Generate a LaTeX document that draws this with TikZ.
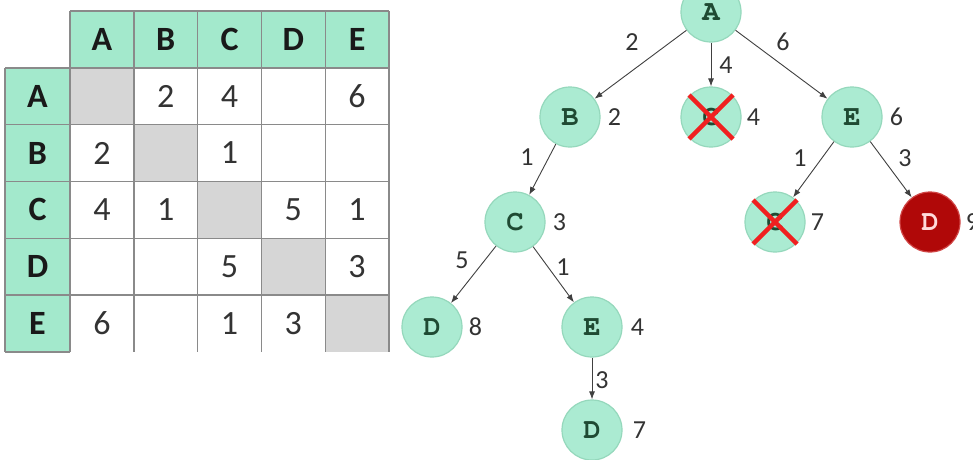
\documentclass[tikz,border=0pt]{standalone}
\usepackage{fontspec}
\setmainfont{Carlito}
\newfontfamily\monob{TeX Gyre Cursor}
\usetikzlibrary{arrows.meta}
\definecolor{hdr}{HTML}{A3E9CC}
\definecolor{diag}{HTML}{D6D6D6}
\definecolor{grid}{HTML}{8A8A8A}
\definecolor{vfill}{HTML}{ABEBD2}
\definecolor{vedge}{HTML}{95D8BC}
\definecolor{vtext}{HTML}{1F4A33}
\definecolor{dred}{HTML}{B00808}
\definecolor{dredge}{HTML}{D04545}
\definecolor{xred}{HTML}{F02020}
\definecolor{txt}{HTML}{333333}
\tikzset{
  hcell/.style={fill=hdr},
  dcell/.style={fill=diag},
  hlab/.style={font=\fontsize{34}{34}\selectfont\bfseries, text=black!90},
  nlab/.style={font=\fontsize{34}{34}\selectfont, text=txt},
  vert/.style={circle, minimum size=60pt, inner sep=0pt, fill=vfill, draw=vedge, line width=1.2pt, font=\monob\bfseries\fontsize{29}{29}\selectfont, text=vtext},
  redvert/.style={vert, fill=dred, draw=dredge, text=red!15},
  lbl/.style={font=\fontsize{26}{26}\selectfont, text=txt, inner sep=0pt},
  edge/.style={draw=black!75, line width=0.9pt, -{Latex[length=8pt,width=6pt]}},
  cross/.style={draw=xred, line width=4.5pt},
}
\begin{document}
\begin{tikzpicture}[x=1pt,y=-1pt]
\clip (0,0) rectangle (973,459);
\fill[white] (0,0) rectangle (973,459);
% table
\def\cw{63.8}
\def\rh{56.8}
\foreach \i in {0,...,4} {
  \fill[hcell] ({70+\i*\cw},11) rectangle ({70+(\i+1)*\cw},{11+\rh});
  \fill[hcell] (5,{11+(\i+1)*\rh}) rectangle (70,{11+(\i+2)*\rh});
  \fill[dcell] ({70+\i*\cw},{11+(\i+1)*\rh}) rectangle ({70+(\i+1)*\cw},{11+(\i+2)*\rh});
}
\foreach \i in {0,...,5} {
  \draw[grid, line width=1.4pt] ({70+\i*\cw},11) -- ({70+\i*\cw},{11+6*\rh});
  \draw[grid, line width=1.4pt] (70,{11+\i*\rh}) -- (389,{11+\i*\rh});
}
\foreach \i in {1,...,6} \draw[grid, line width=1.4pt] (5,{11+\i*\rh}) -- (70,{11+\i*\rh});
\draw[grid, line width=1.4pt] (5,{11+\rh}) -- (5,{11+6*\rh});
\foreach \l [count=\i from 0] in {A,B,C,D,E} {
  \node[hlab] (ch\l) at ({70+(\i+0.5)*\cw},{11+0.5*\rh}) {\l};
  \node[hlab] (rh\l) at (37.5,{11+(\i+1.5)*\rh}) {\l};
}
\foreach \r/\c/\v [count=\k] in {0/1/2,0/2/4,0/4/6,1/0/2,1/2/1,2/0/4,2/1/1,2/3/5,2/4/1,3/2/5,3/4/3,4/0/6,4/2/1,4/3/3} {
  \node[nlab] (n\k) at ({70+(\c+0.5)*\cw},{11+(\r+1.5)*\rh}) {\v};
}
% tree
\node[vert] (A) at (711,12) {A};
\node[vert] (B) at (570,117) {B};
\node[vert] (Cx) at (711,117) {C};
\node[vert] (E) at (852,117) {E};
\node[vert] (C) at (515,222) {C};
\node[vert] (Cy) at (775,222) {C};
\node[redvert] (Dr) at (930,222) {D};
\node[vert] (D1) at (432,327) {D};
\node[vert] (E2) at (592,327) {E};
\node[vert] (D2) at (592,430) {D};
\foreach \n in {Cx,Cy} {
  \draw[cross] ([shift={(-22,-22)}]\n.center) -- ([shift={(22,22)}]\n.center);
  \draw[cross] ([shift={(-22,22)}]\n.center) -- ([shift={(22,-22)}]\n.center);
}
\draw[edge] (A) -- (B);
\draw[edge] (A) -- (Cx);
\draw[edge] (A) -- (E);
\draw[edge] (B) -- (C);
\draw[edge] (E) -- (Cy);
\draw[edge] (E) -- (Dr);
\draw[edge] (C) -- (D1);
\draw[edge] (C) -- (E2);
\draw[edge] (E2) -- (D2);
% edge labels
\node[lbl] (eAB) at (632,42) {2};
\node[lbl] (eAC) at (726,65) {4};
\node[lbl] (eAE) at (783,42) {6};
\node[lbl] (eBC) at (527,157) {1};
\node[lbl] (eEC) at (800,158) {1};
\node[lbl] (eED) at (905,158) {3};
\node[lbl] (eCD) at (462,260) {5};
\node[lbl] (eCE) at (563,267) {1};
\node[lbl] (eED2) at (602,380) {3};
% cost labels
\node[lbl, anchor=west] (vB) at ([xshift=7pt]B.east) {2};
\node[lbl, anchor=west] (vCx) at ([xshift=5pt]Cx.east) {4};
\node[lbl, anchor=west] (vE) at ([xshift=7pt]E.east) {6};
\node[lbl, anchor=west] (vC) at ([xshift=7pt]C.east) {3};
\node[lbl, anchor=west] (vCy) at ([xshift=5pt]Cy.east) {7};
\node[lbl, anchor=west] (vDr) at ([xshift=5pt]Dr.east) {9};
\node[lbl, anchor=west] (vD1) at ([xshift=6pt]D1.east) {8};
\node[lbl, anchor=west] (vE2) at ([xshift=8pt]E2.east) {4};
\node[lbl, anchor=west] (vD2) at ([xshift=10pt]D2.east) {7};
\end{tikzpicture}
\end{document}
